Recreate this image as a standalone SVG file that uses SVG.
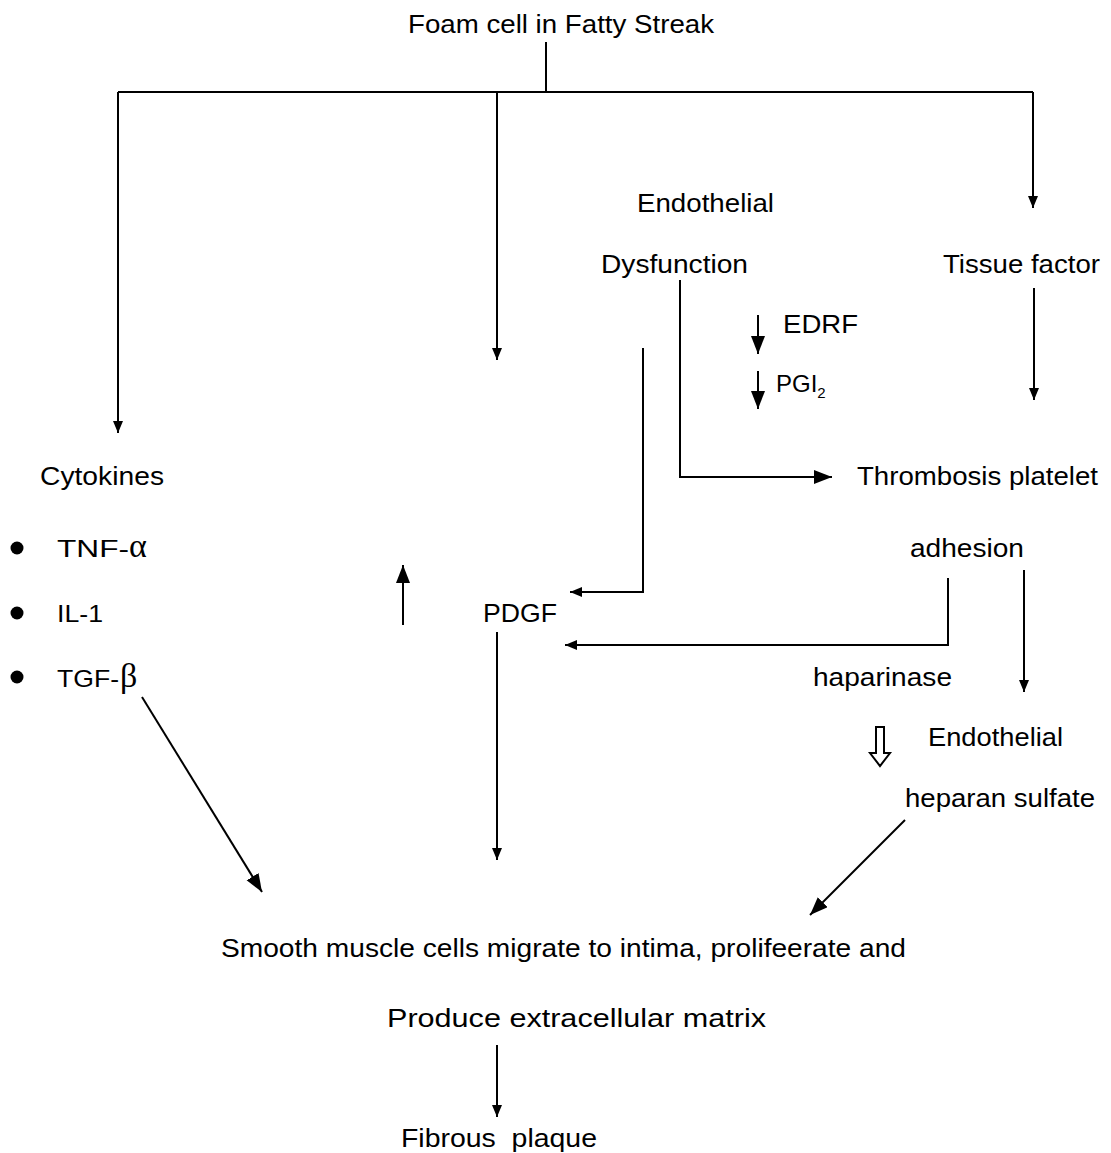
<svg xmlns="http://www.w3.org/2000/svg" width="1111" height="1153" viewBox="0 0 1111 1153">
<style>
text{font-family:"Liberation Sans",Arial,sans-serif;font-size:26px;fill:#000}
.s{font-size:24px}
.g{font-family:"Liberation Serif","DejaVu Serif",serif;font-size:34px}
.sub{font-size:15px}
.c{fill:none;stroke:#000;stroke-width:2}
</style>
<defs>
<marker id="a" markerUnits="userSpaceOnUse" markerWidth="12" markerHeight="12" refX="12" refY="5" orient="auto"><path d="M0,0 L12,5 L0,10 z" fill="#000"/></marker>
<marker id="b" markerUnits="userSpaceOnUse" markerWidth="20" markerHeight="16" refX="18" refY="7" orient="auto"><path d="M0,0 L18,7 L0,14 z" fill="#000"/></marker>
</defs>
<rect width="1111" height="1153" fill="#fff"/>
<g id="connectors">
<path class="c" d="M546,42 V92 M118,92 H1033"/>
<path class="c" d="M118,92 V433" marker-end="url(#a)"/>
<path class="c" d="M497,92 V360" marker-end="url(#a)"/>
<path class="c" d="M1033,92 V208" marker-end="url(#a)"/>
<path class="c" d="M1034,288 V400" marker-end="url(#a)"/>
<path class="c" d="M680,280 V477 H832" marker-end="url(#b)"/>
<path class="c" d="M643,348 V592 H570" marker-end="url(#a)"/>
<path class="c" d="M948,578 V645 H565" marker-end="url(#a)"/>
<path class="c" d="M1024,570 V692" marker-end="url(#a)"/>
<path class="c" d="M758,315 V354" marker-end="url(#b)"/>
<path class="c" d="M758,371 V409" marker-end="url(#b)"/>
<path class="c" d="M403,625 V565" marker-end="url(#b)"/>
<path class="c" d="M497,632 V860" marker-end="url(#a)"/>
<path class="c" d="M142,697 L262,892" marker-end="url(#b)"/>
<path class="c" d="M905,820 L810,915" marker-end="url(#b)"/>
<path class="c" d="M497,1045 V1117" marker-end="url(#a)"/>
<path d="M876,727 H884 V753 H890 L880,766 L870,753 H876 Z" fill="#fff" stroke="#000" stroke-width="2"/>
</g>
<g id="n-foam"><text x="408" y="33" textLength="306" lengthAdjust="spacingAndGlyphs">Foam cell in Fatty Streak</text></g>
<g id="n-endo"><text x="637" y="212" textLength="137" lengthAdjust="spacingAndGlyphs">Endothelial</text>
<text x="601" y="273" textLength="147" lengthAdjust="spacingAndGlyphs">Dysfunction</text></g>
<g id="n-tissue"><text x="943" y="273" textLength="157" lengthAdjust="spacingAndGlyphs">Tissue factor</text></g>
<g id="n-edrf"><text x="783" y="333" textLength="75" lengthAdjust="spacingAndGlyphs">EDRF</text></g>
<g id="n-pgi"><text x="776" y="392" class="s">PGI<tspan class="sub" dy="6">2</tspan></text></g>
<g id="n-cyto"><text x="40" y="485" textLength="124" lengthAdjust="spacingAndGlyphs">Cytokines</text>
<circle cx="17" cy="548" r="6.5"/><circle cx="17" cy="613" r="6.5"/><circle cx="17" cy="677" r="6.5"/>
<text x="57" y="557" class="s" textLength="72" lengthAdjust="spacingAndGlyphs">TNF-</text><text x="129" y="557" class="g">α</text>
<text x="57" y="622" class="s" textLength="46" lengthAdjust="spacingAndGlyphs">IL-1</text>
<text x="57" y="687" class="s" textLength="62" lengthAdjust="spacingAndGlyphs">TGF-</text><text x="120" y="687" class="g">β</text></g>
<g id="n-thromb"><text x="857" y="485" textLength="241" lengthAdjust="spacingAndGlyphs">Thrombosis platelet</text>
<text x="910" y="557" textLength="114" lengthAdjust="spacingAndGlyphs">adhesion</text></g>
<g id="n-pdgf"><text x="483" y="622" textLength="74" lengthAdjust="spacingAndGlyphs">PDGF</text></g>
<g id="n-hapar"><text x="813" y="686" textLength="139" lengthAdjust="spacingAndGlyphs">haparinase</text></g>
<g id="n-hs"><text x="928" y="746" textLength="135" lengthAdjust="spacingAndGlyphs">Endothelial</text>
<text x="905" y="807" textLength="190" lengthAdjust="spacingAndGlyphs">heparan sulfate</text></g>
<g id="n-smc"><text x="221" y="957" textLength="685" lengthAdjust="spacingAndGlyphs">Smooth muscle cells migrate to intima, prolifeerate and</text>
<text x="387" y="1027" textLength="379" lengthAdjust="spacingAndGlyphs">Produce extracellular matrix</text></g>
<g id="n-fib"><text x="401" y="1147" textLength="196" lengthAdjust="spacingAndGlyphs" xml:space="preserve">Fibrous  plaque</text></g>
</svg>
